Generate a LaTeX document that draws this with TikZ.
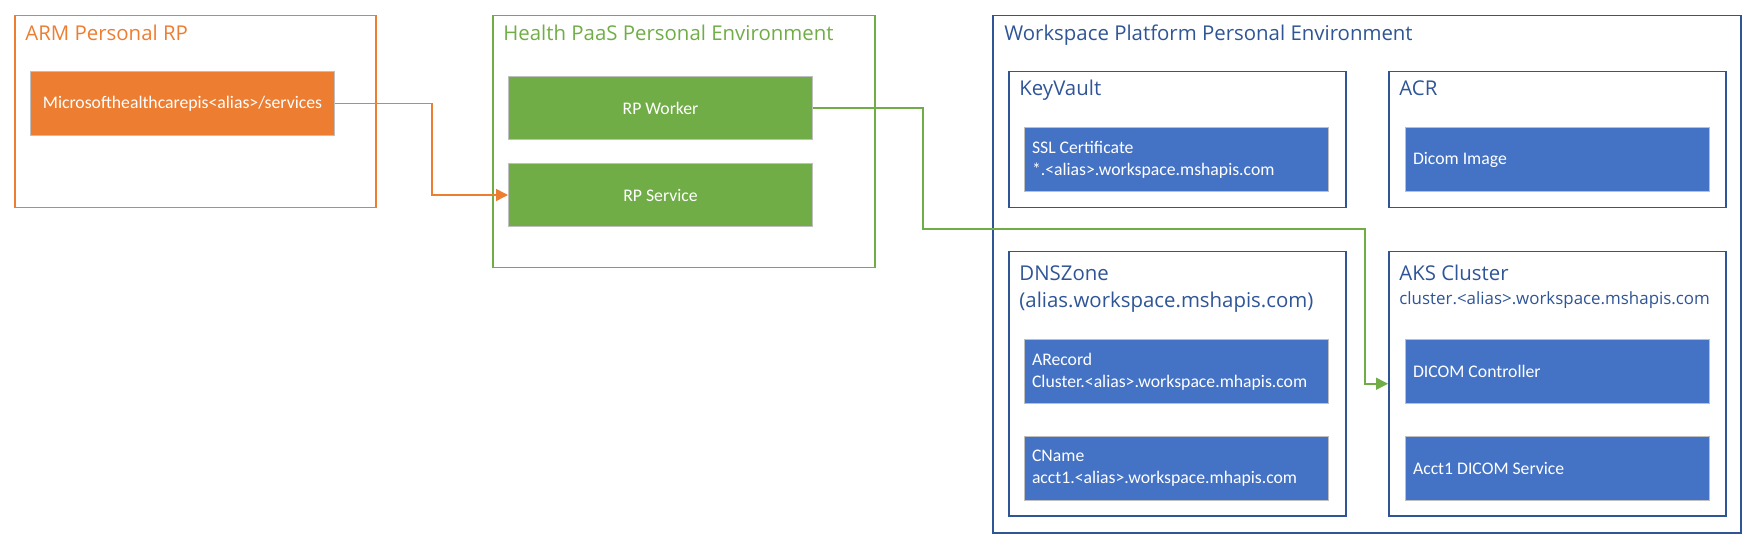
\documentclass[tikz,border=0pt]{standalone}
\usepackage{fontspec}
\setmainfont{Carlito}
\newfontfamily\titlefamily{Open Sans}
\usetikzlibrary{positioning,arrows.meta}

\definecolor{armorange}{HTML}{ED7D31}
\definecolor{paasgreen}{HTML}{70AD47}
\definecolor{wsblue}{HTML}{4472C4}
\definecolor{wsdark}{HTML}{2F5597}
\definecolor{itemedge}{HTML}{BFBFBF}

\tikzstyle{container} = [draw, line width=0.75pt, anchor=north west, inner sep=0pt, minimum width=168.5pt, minimum height=68pt]
\tikzstyle{title} = [anchor=base west, inner sep=0pt, font=\titlefamily\fontsize{10.2}{13.5}\selectfont]
\tikzstyle{subtitle} = [anchor=base west, inner sep=0pt, font=\titlefamily\fontsize{8.45}{11}\selectfont]
\tikzstyle{item} = [draw=itemedge, line width=0.5pt, anchor=north west, minimum width=152pt, minimum height=32pt, inner xsep=3.75pt, inner ysep=0pt, text=white, font=\fontsize{8.85}{11}\selectfont]
\tikzstyle{left item} = [item, text width=144.5pt, align=left, execute at begin node={\spaceskip=0pt\xspaceskip=0pt}]
\tikzstyle{center item} = [item, align=center]
\tikzstyle{link} = [draw, line width=0.75pt, -{Triangle[length=6pt,width=6pt]}]

\begin{document}
\begin{tikzpicture}[x=0.5pt, y=-0.5pt]
     \useasboundingbox (0,0) rectangle (1756,545);
     % the three environments
     \node[container, draw=armorange, minimum width=180.5pt, minimum height=96pt] (arm) at (14,15) {};
     \node[container, draw=paasgreen, minimum width=191pt, minimum height=126pt] (paas) at (492,15) {};
     \node[container, draw=wsdark, minimum width=374pt, minimum height=258.5pt] (ws) at (992,15) {};
     \node[title, text=armorange] (armtitle) at ([shift={(11,26)}]arm.north west) {ARM Personal RP};
     \node[title, text=paasgreen] (paastitle) at ([shift={(11,26)}]paas.north west) {Health PaaS Personal Environment};
     \node[title, text=wsdark] (wstitle) at ([shift={(12,26)}]ws.north west) {Workspace Platform Personal Environment};

     % resources inside the workspace
     \foreach \pos/\name/\ht in {{(1008,71)/keyvault/68pt}, {(1388,71)/acr/68pt},
       {(1008,251)/dnszone/132pt}, {(1388,251)/aks/132pt}}
     \node[container, draw=wsdark, minimum height=\ht] (\name) at \pos {};
     \node[title, text=wsdark] (kvtitle) at ([shift={(11,25)}]keyvault.north west) {KeyVault};
     \node[title, text=wsdark] (acrtitle) at ([shift={(11,25)}]acr.north west) {ACR};
     \node[title, text=wsdark] (dnstitle) at ([shift={(11,29)}]dnszone.north west) {DNSZone};
     \node[title, text=wsdark, below=13.5pt of dnstitle.base west, anchor=base west] (dnssub) {(alias.workspace.mshapis.com)};
     \node[title, text=wsdark] (akstitle) at ([shift={(11,29)}]aks.north west) {AKS Cluster};
     \node[subtitle, text=wsdark, below=12.5pt of akstitle.base west, anchor=base west] (akssub) {cluster.<alias>.workspace.mshapis.com};

     % filled boxes
     \node[center item, fill=armorange] (rpservices) at (30,71) {Microsofthealthcarepis<alias>/services};
     \foreach \pos/\name/\txt in {{(508,76)/rpworker/RP Worker}, {(508,163)/rpservice/RP Service}}
     \node[center item, fill=paasgreen, minimum height=31.5pt] (\name) at \pos {\txt};
     \foreach \pos/\name/\txt in {{(1024,127)/sslcert/SSL Certificate\\{*}.<alias>.workspace.mshapis.com},
       {(1405,127)/dicomimage/Dicom Image},
       {(1024,339)/arecord/ARecord\\Cluster.<alias>.workspace.mhapis.com},
       {(1024,436)/cname/CName\\acct1.<alias>.workspace.mhapis.com},
       {(1405,339)/dicomctrl/DICOM Controller},
       {(1405,436)/dicomsvc/Acct1 DICOM Service}}
     \node[left item, fill=wsblue] (\name) at \pos {\txt};

     % connectors
     \coordinate (turnA) at (923,229);
     \coordinate (turnB) at (1365,229);
     \path[link, draw=armorange] (rpservices.east) -- ++(97,0) |- (rpservice.west);
     \path[link, draw=paasgreen] (rpworker.east) -| (turnA) -- (turnB) |- (aks.west);
\end{tikzpicture}
\end{document}
